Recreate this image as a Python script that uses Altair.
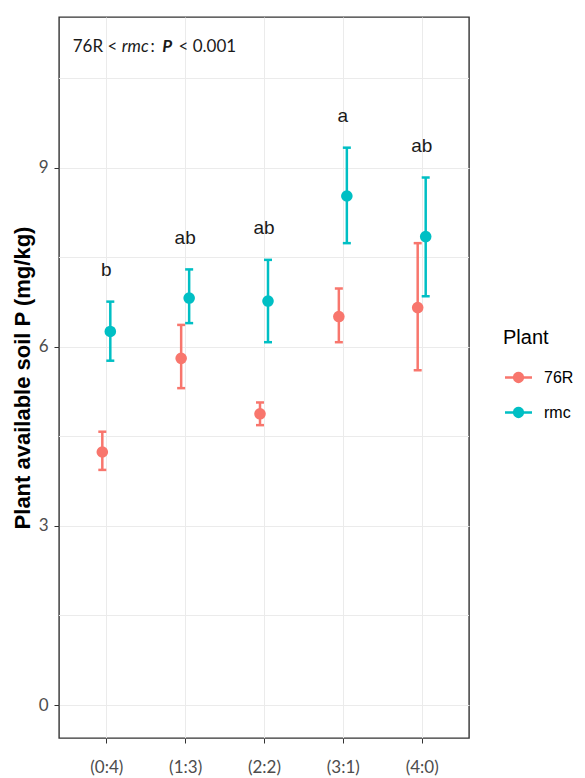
import altair as alt
import pandas as pd

# Plant-available soil P by planting ratio (76R : rmc), mean with error range
ratios = ["(0:4)", "(1:3)", "(2:2)", "(3:1)", "(4:0)"]
plants = ["76R", "rmc"]
colors = ["#F8766D", "#00BFC4"]

mean_76r = [4.24, 5.81, 4.88, 6.51, 6.66]
low_76r = [3.94, 5.31, 4.69, 6.08, 5.61]
high_76r = [4.58, 6.37, 5.07, 6.98, 7.74]

mean_rmc = [6.26, 6.82, 6.77, 8.53, 7.85]
low_rmc = [5.77, 6.40, 6.08, 7.74, 6.85]
high_rmc = [6.76, 7.30, 7.46, 9.34, 8.84]

letters = ["b", "ab", "ab", "a", "ab"]

y_ticks = [0, 3, 6, 9]
y_minor = [1.5, 4.5, 7.5, 10.5]
y_limits = [-0.553, 11.53]

rows = []
for plant, means, lows, highs in [
    ("76R", mean_76r, low_76r, high_76r),
    ("rmc", mean_rmc, low_rmc, high_rmc),
]:
    for r, m, lo, hi in zip(ratios, means, lows, highs):
        rows.append({"ratio": r, "plant": plant, "mean": m, "lo": lo, "hi": hi})
df = pd.DataFrame(rows)
letters_df = pd.DataFrame({"ratio": ratios, "letter": letters, "top": high_rmc})
minor_df = pd.DataFrame({"v": y_minor})

TICK_FONT = "Lato"
MAIN_FONT = "Liberation Sans"
GREY = "#4D4D4D"
GRID = "#EBEBEB"

x_enc = alt.X(
    "ratio:N",
    sort=ratios,
    scale=alt.Scale(type="point", padding=0.6),
    axis=alt.Axis(
        title=None,
        labelFont=TICK_FONT,
        labelFontSize=17,
        labelColor=GREY,
        labelPadding=16,
        labelAngle=0,
        tickSize=5,
        tickColor="#333333",
        grid=True,
        gridColor=GRID,
        gridWidth=1,
        domain=False,
    ),
)
dodge = alt.XOffset(
    "plant:N",
    scale=alt.Scale(type="point", domain=plants, range=[-4, 4], padding=0),
)
y_scale = alt.Scale(domain=y_limits, nice=False, zero=False)

symbol_path = (
    "M-1,-0.1L-0.408,-0.1A0.42,0.42,0,0,1,0.408,-0.1L1,-0.1L1,0.1"
    "L0.408,0.1A0.42,0.42,0,0,1,-0.408,0.1L-1,0.1Z"
)
color_legend = alt.Color(
    "plant:N",
    scale=alt.Scale(domain=plants, range=colors),
    legend=alt.Legend(
        title="Plant",
        orient="none",
        legendX=444,
        legendY=311,
        titleFont=MAIN_FONT,
        titleFontSize=20,
        titleFontWeight="normal",
        titleColor="black",
        titlePadding=16,
        labelFont=MAIN_FONT,
        labelFontSize=16,
        labelColor="black",
        labelOffset=12,
        symbolType=symbol_path,
        symbolSize=729,
        symbolStrokeWidth=0,
        symbolOpacity=1,
        symbolOffset=2,
        rowPadding=13,
    ),
)
# error bars colour by a copy of the plant field, so their (hidden) guides
# never merge with the points' legend
bar_scale = alt.Scale(range=colors)

y_axis = alt.Axis(
    title="Plant available soil P (mg/kg)",
    values=y_ticks,
    titleFont=MAIN_FONT,
    titleFontSize=22,
    titleFontWeight="bold",
    titleColor="black",
    titleAngle=-90,
    titleAlign="center",
    titleBaseline="middle",
    titleX=-37,
    titleY=360.5,
    labelFont=TICK_FONT,
    labelFontSize=17,
    labelColor=GREY,
    labelPadding=6,
    tickSize=5,
    tickColor="#333333",
    grid=True,
    gridColor=GRID,
    gridWidth=1,
    domain=False,
)

minor_grid = (
    alt.Chart(minor_df)
    .mark_rule(color=GRID, strokeWidth=1)
    .encode(y=alt.Y("v:Q", scale=y_scale, axis=y_axis))
)

base = alt.Chart(df).transform_calculate(series="datum.plant")

bars = base.mark_rule(strokeWidth=2.5).encode(
    x=x_enc,
    xOffset=dodge,
    y=alt.Y("lo:Q", scale=y_scale, axis=y_axis),
    y2="hi:Q",
    stroke=alt.Stroke("series:N", scale=bar_scale, legend=None),
)

caps = (
    base.transform_fold(["lo", "hi"], as_=["end", "val"])
    .mark_tick(size=8, thickness=2.5, opacity=1)
    .encode(
        x=x_enc,
        xOffset=dodge,
        y=alt.Y("val:Q", scale=y_scale, axis=y_axis),
        fill=alt.Fill("series:N", scale=bar_scale, legend=None),
    )
)

points = alt.Chart(df).mark_circle(size=135, opacity=1).encode(
    x=x_enc,
    xOffset=dodge,
    y=alt.Y("mean:Q", scale=y_scale, axis=y_axis),
    color=color_legend,
)

letter_text = (
    alt.Chart(letters_df)
    .transform_calculate(ly="datum.top + 0.53")
    .mark_text(font=MAIN_FONT, fontSize=19, color="#1A1A1A", baseline="middle")
    .encode(
        x=x_enc,
        y=alt.Y("ly:Q", scale=y_scale, axis=y_axis),
        text="letter:N",
    )
)

# "76R < rmc: P < 0.001" with mixed styling, built from separate pieces
one = pd.DataFrame({"k": [0]})
pieces = [
    ("76R <", 13.7, "normal", "normal"),
    ("rmc", 62.7, "italic", "normal"),
    (":", 91.5, "normal", "normal"),
    ("P", 103.3, "italic", "bold"),
    ("< 0.001", 119.5, "normal", "normal"),
]
note_layers = [
    alt.Chart(one)
    .mark_text(
        font=TICK_FONT,
        fontSize=17,
        fontStyle=style,
        fontWeight=weight,
        color="#1A1A1A",
        align="left",
        baseline="alphabetic",
    )
    .encode(x=alt.value(px), y=alt.value(34.7), text=alt.value(txt))
    for txt, px, style, weight in pieces
]

chart = (
    alt.layer(minor_grid, bars, caps, points, letter_text, *note_layers)
    .properties(
        width=410,
        height=721,
        autosize="none",
        padding={"left": 59, "top": 17, "right": 116, "bottom": 40},
        background="white",
    )
    .configure_view(stroke="#333333", strokeWidth=1.4)
)

chart.save("out.html", embed_options={"renderer": "svg", "actions": False})
